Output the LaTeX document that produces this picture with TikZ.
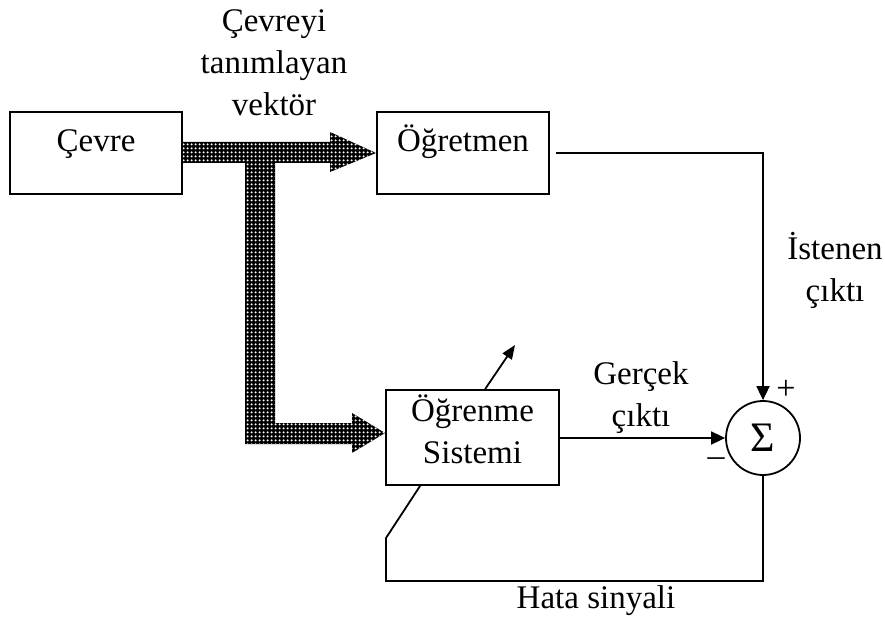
\documentclass[tikz,border=0pt]{standalone}
\usepackage{fontspec}
\setmainfont{Liberation Serif}
\usepackage{tikz}
\usetikzlibrary{arrows.meta, positioning, calc, patterns, patterns.meta}

\begin{document}
\begin{tikzpicture}[x=1pt, y=-1pt,
    font=\fontsize{33}{42}\selectfont,
    blok/.style={draw, line width=1.8pt, minimum width=172pt, minimum height=82pt, inner sep=0pt, align=center},
    tekli/.style={text height=20pt, text depth=22pt},
    hat/.style={line width=1.8pt},
    ok/.style={hat, -{Triangle[length=14pt, width=13pt]}},
    etiket/.style={align=center, inner sep=0pt},
    isaret/.style={font=\fontsize{34}{34}\selectfont, inner sep=0pt}]
  \useasboundingbox (0,0) rectangle (885,620);

  % bloklar
  \node[blok, tekli] (cevre) at (96,153) {Çevre};
  \node[blok, tekli] (ogretmen) at (463,153) {Öğretmen};
  \node[blok, minimum width=173pt, minimum height=95pt, text depth=17pt] (ogrenme) at (472.5,437.5) {Öğrenme\\Sistemi};
  \node[draw, circle, line width=1.8pt, minimum size=74pt, inner sep=0pt, font=\fontsize{42}{42}\selectfont] (toplam) at (763,438) {Σ};

  % cevreyi tanimlayan vektor (kalin oklar)
  \path[preaction={fill=black}, pattern={Dots[distance=4pt, radius=1.3pt]}, pattern color=white]
    (cevre.east |- 0,142) -- (330,142) -- (330,132) -- (ogretmen.west) -- (330,172) -- (330,163)
    -- (275,163) -- (275,423) -- (352,423) -- (352,413) -- (ogrenme.west |- 0,433)
    -- (352,453) -- (352,444) -- (245,444) -- (245,163) -- (cevre.east |- 0,163) -- cycle;
  \node[etiket] (vektor) at (274,63) {Çevreyi\\tanımlayan\\vektör};

  % istenen cikti
  \coordinate (ogr-cikis) at ([xshift=6pt]ogretmen.east);
  \draw[ok] (ogr-cikis) -| (toplam.north);
  \node[etiket] (istenen) at (835,270) {İstenen\\çıktı};
  \node[isaret] (arti) at (786,390) {+};

  % gercek cikti
  \draw[ok] (ogrenme.east |- toplam) -- (toplam.west);
  \node[etiket] (gercek) at (641,398) {Gerçek\\çıktı};
  \node[isaret] (eksi) at (716,462) {–};

  % hata sinyali
  \coordinate (alt) at (763,581);
  \coordinate (kose) at (386,538);
  \coordinate (ayar) at ($(ogrenme.south west)+(35,0)$);
  \draw[hat] (toplam.south) -- (alt) -| (kose) -- (ayar);
  \node[etiket] (hata) at (596,601) {Hata sinyali};

  % ayar oku
  \coordinate (ayar-uc) at (515,345);
  \draw[hat, -{Triangle[length=14pt, width=11pt]}] ($(ogrenme.north west)+(100,0)$) -- (ayar-uc);
\end{tikzpicture}
\end{document}
